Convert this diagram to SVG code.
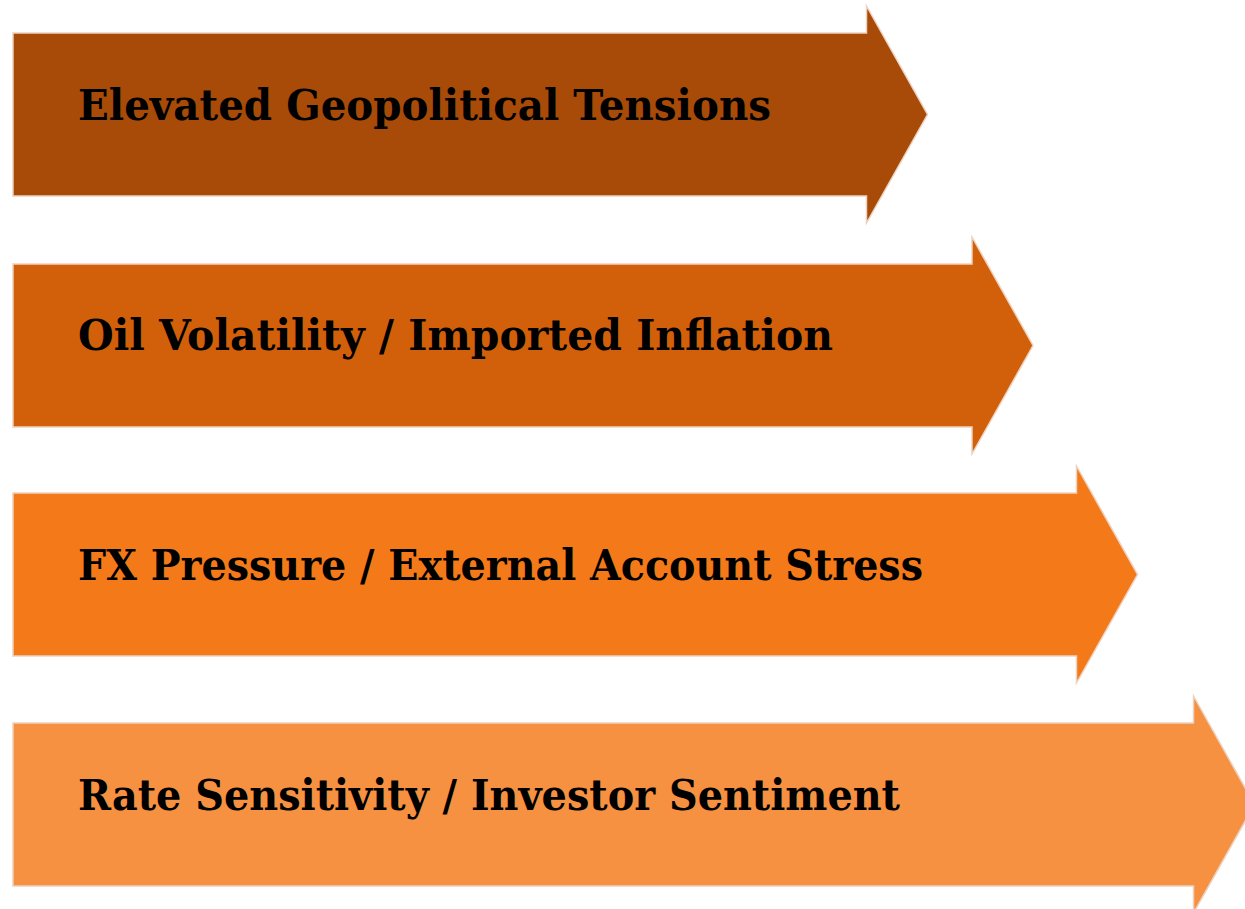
<svg xmlns="http://www.w3.org/2000/svg" width="1245" height="909" viewBox="0 0 1245 909">
<style>
.arrow{stroke:#ecd2bf;stroke-width:1.5;stroke-linejoin:miter}
.lbl{font-family:"DejaVu Serif","Liberation Serif",serif;font-weight:bold;font-size:43px;fill:#000}
</style>
<rect width="1245" height="909" fill="#ffffff"/>
<g id="node1">
<path class="arrow" fill="#A84B08" d="M13,33 H866.5 V6 L927.5,114.5 L866.5,223 V196 H13 Z"/>
<text class="lbl" x="78" y="120" textLength="693" lengthAdjust="spacingAndGlyphs">Elevated Geopolitical Tensions</text>
</g>
<g id="node2">
<path class="arrow" fill="#D2600A" d="M13,264 H972 V237 L1033,345.5 L972,454 V427 H13 Z"/>
<text class="lbl" x="78" y="350" textLength="755" lengthAdjust="spacingAndGlyphs">Oil Volatility / Imported Inflation</text>
</g>
<g id="node3">
<path class="arrow" fill="#F47A19" d="M13,493 H1076.5 V466 L1137.5,574.5 L1076.5,683 V656 H13 Z"/>
<text class="lbl" x="78" y="580" textLength="845" lengthAdjust="spacingAndGlyphs">FX Pressure / External Account Stress</text>
</g>
<g id="node4">
<path class="arrow" fill="#F69142" d="M13,723 H1193.5 V696 L1254.5,804.5 L1193.5,913 V886 H13 Z"/>
<text class="lbl" x="78" y="810" textLength="822" lengthAdjust="spacingAndGlyphs">Rate Sensitivity / Investor Sentiment</text>
</g>
<g id="connectors"></g>
</svg>
